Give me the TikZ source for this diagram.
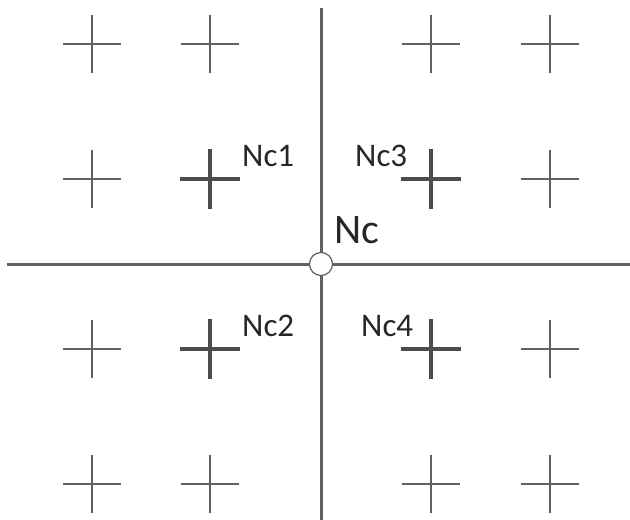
\documentclass[tikz,border=0pt]{standalone}
\usepackage{fontspec}
\setmainfont{Carlito}
\begin{document}
\begin{tikzpicture}[x=1pt,y=-1pt,
  axis/.style={draw=black!62,line width=3pt},
  thincross/.style={draw=black!62,line width=2.3pt},
  boldcross/.style={draw=black!70,line width=3.8pt},
  lbl/.style={anchor=base west,inner sep=0pt,font=\fontsize{33}{37}\selectfont,text=black!85},
  biglbl/.style={anchor=base west,inner sep=0pt,font=\fontsize{42}{46}\selectfont,text=black!85}]
\useasboundingbox (0,0) rectangle (630,520);
\fill[white] (0,0) rectangle (630,520);
% axes
\coordinate (top) at (321,8);
\coordinate (bot) at (321,520);
\coordinate (left) at (7,264);
\coordinate (right) at (630,264);
\draw[axis] (top) -- (bot);
\draw[axis] (left) -- (right);
\node[circle,draw=black!62,line width=1.2pt,fill=white,minimum size=23pt,inner sep=0pt] (Nc0) at (321,264) {};
% thin crosses
\foreach \x/\y in {92/44,210/44,431/44,550/44,
                   92/179,550/179,
                   92/349,550/349,
                   92/484,210/484,431/484,550/484}{
  \draw[thincross] (\x-29,\y) -- (\x+29,\y) (\x,\y-29) -- (\x,\y+29);
}
% bold crosses
\foreach \x/\y in {210/179,431/179,210/349,431/349}{
  \draw[boldcross] (\x-30,\y) -- (\x+30,\y) (\x,\y-30) -- (\x,\y+30);
}
% labels
\node[lbl] (nc1) at (242,166) {Nc1};
\node[lbl] (nc3) at (355,166) {Nc3};
\node[lbl] (nc2) at (242,336) {Nc2};
\node[lbl] (nc4) at (361,336) {Nc4};
\node[biglbl] (nc) at (334,243) {Nc};
\end{tikzpicture}
\end{document}
